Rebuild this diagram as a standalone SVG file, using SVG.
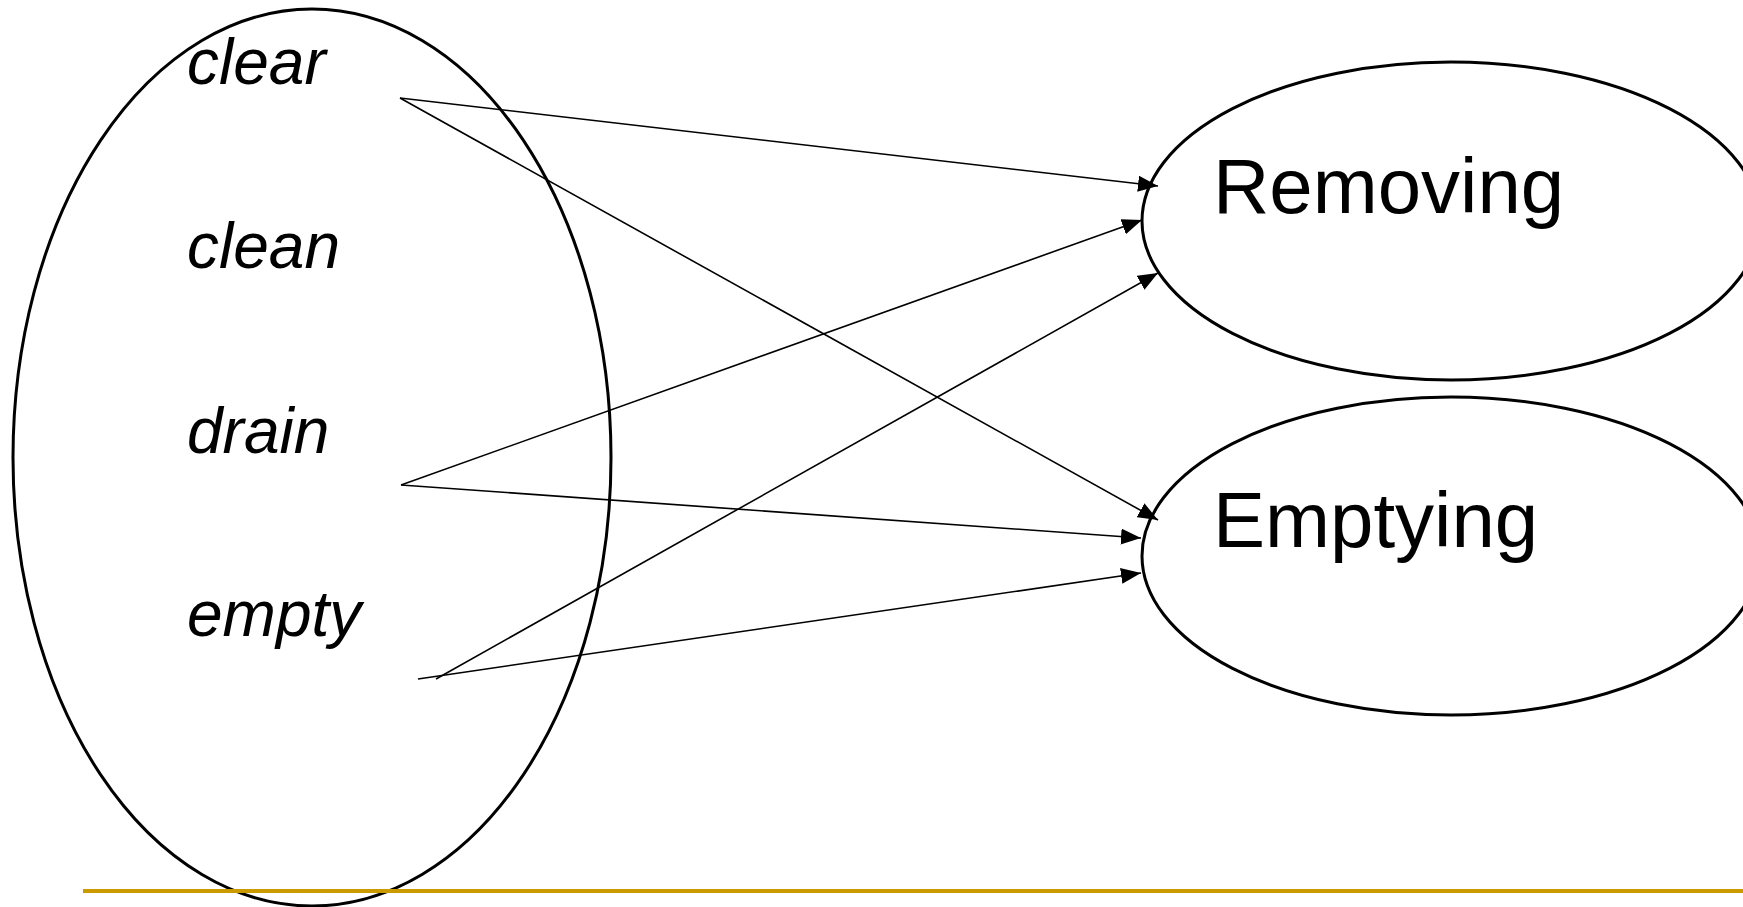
<svg xmlns="http://www.w3.org/2000/svg" width="1743" height="907" viewBox="0 0 1743 907">
<style>
.shape{fill:none;stroke:#000;stroke-width:3}
.lbl{font-family:"Liberation Sans",Arial,sans-serif;font-style:italic;font-size:64px;fill:#000}
.big{font-family:"Liberation Sans",Arial,sans-serif;font-size:78px;fill:#000}
.conn{stroke:#000;stroke-width:1.6;fill:none;marker-end:url(#arr)}
</style>
<defs>
<marker id="arr" markerUnits="userSpaceOnUse" markerWidth="20" markerHeight="16" refX="20" refY="8" orient="auto">
<path d="M0,0 L20,8 L0,16 Z" fill="#000"/>
</marker>
</defs>
<rect width="1743" height="907" fill="#fff"/>
<g id="verbs">
<ellipse class="shape" cx="312" cy="457.5" rx="299" ry="448.5"/>
<text class="lbl" x="187" y="84">clear</text>
<text class="lbl" x="187" y="268">clean</text>
<text class="lbl" x="187" y="453">drain</text>
<text class="lbl" x="187" y="636">empty</text>
</g>
<g id="removing">
<ellipse class="shape" cx="1451" cy="221" rx="309" ry="159"/>
<text class="big" x="1213" y="213">Removing</text>
</g>
<g id="emptying">
<ellipse class="shape" cx="1451" cy="556" rx="309" ry="159"/>
<text class="big" x="1213" y="547">Emptying</text>
</g>
<g id="connectors">
<line class="conn" x1="400" y1="98" x2="1158" y2="186"/>
<line class="conn" x1="400" y1="98" x2="1158" y2="520"/>
<line class="conn" x1="401" y1="485" x2="1142" y2="220"/>
<line class="conn" x1="401" y1="485" x2="1141" y2="538"/>
<line class="conn" x1="436" y1="679" x2="1158" y2="273"/>
<line class="conn" x1="418" y1="679" x2="1141" y2="573"/>
</g>
<line x1="83" y1="891" x2="1743" y2="891" stroke="#CC9900" stroke-width="4"/>
</svg>
